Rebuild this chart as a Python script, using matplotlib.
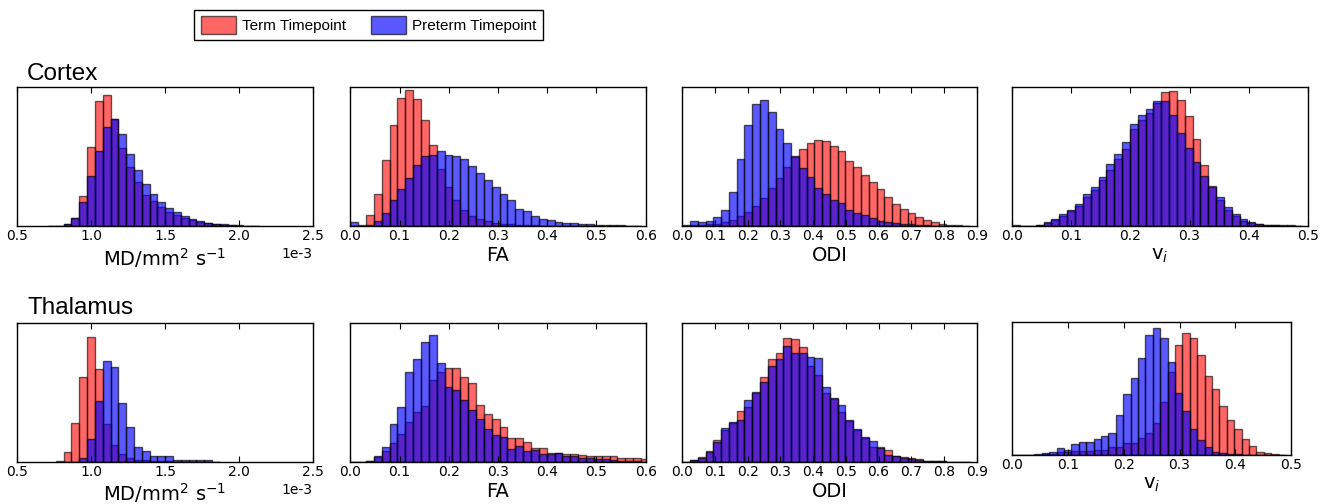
import numpy as np
import matplotlib
matplotlib.use("Agg")
import matplotlib.pyplot as plt
from matplotlib.patches import Patch
from matplotlib.ticker import MultipleLocator

plt.rcParams['axes.unicode_minus'] = False
plt.rcParams['font.family'] = ['DejaVu Sans']

# ---------------- data (relative bar heights, % of panel height) ----------------
series_labels = ["Term Timepoint", "Preterm Timepoint"]
row_titles = ["Cortex", "Thalamus"]
x_labels = [r"MD/mm$^2$ s$^{-1}$", "FA", "ODI", r"v$_i$"]

# bin grids (start, width) per metric
md_bins_cortex = (0.708e-3, 0.0529e-3)
md_bins_thal = (0.761e-3, 0.0529e-3)
fa_bins = (0.0, 0.01596)
odi_bins = (0.0, 0.02375)
vi_bins = (0.0, 0.01327)

# Cortex
md_cortex_term = [0.2, 0.5, 1.7, 6, 21.6, 57, 90, 94.7, 77, 56.3, 42.5, 32, 22.3, 18.2,
                  13.8, 10.4, 8, 5.8, 4.4, 3.4, 2.2, 1.7, 1.2, 0.7, 0.5, 0.3, 0.2]
md_cortex_pre = [0.2, 0.5, 1.7, 6, 17.5, 36, 54.6, 71.6, 77, 66.5, 52, 40.5, 30.8, 23,
                 17.5, 13.1, 10.2, 7.3, 5.3, 4.1, 2.7, 1.9, 1.5, 1.0, 0.7, 0.5, 0.2]

fa_cortex_term = [0.5, 0.7, 8, 23.6, 47.5, 73, 92.3, 98.3, 92, 76.4, 58.8, 41.4, 28, 18.8,
                  12, 7.7, 5.3, 3.6, 2.4, 1.9, 1.4, 1.2, 0.9, 0.7, 0.5, 0.4, 0.3, 0.3,
                  0.2, 0.2, 0.2, 0.1, 0.1, 0.1, 0, 0, 0]
fa_cortex_pre = [2.9, 0.5, 1.2, 3.6, 9.6, 19.3, 27, 35, 43.9, 51, 51.6, 54, 51.6, 50.6,
                 48.2, 43.4, 38.6, 33.7, 28.4, 23.6, 18.8, 12.5, 10.8, 7.7, 5.3, 4.3, 2.9,
                 2.4, 2.2, 1.9, 1.4, 1.2, 0.9, 0.7, 0.7, 0.5, 0.3]

odi_cortex_term = [0.3, 0.7, 1, 1.4, 1.9, 2.9, 4.8, 7.1, 10.5, 14.8, 20.7, 27.9, 34.5, 42.9,
                   50, 56, 60.2, 62.4, 61.2, 57.6, 54.3, 47.4, 42.9, 36.9, 32, 26.7, 21,
                   16.2, 12.4, 9.5, 6.7, 4.8, 2.9, 1.9, 1.2, 0.7, 0.3]
odi_cortex_pre = [1, 3.8, 2.9, 3.8, 6.7, 11.9, 25, 48.3, 73, 88, 91, 82, 70, 60, 50.5, 41.7,
                  35.2, 27.9, 23.3, 19, 17.1, 11.9, 9.5, 8.1, 6, 3.8, 3.1, 2.4, 1.7, 1.4,
                  1, 0.7, 0.5, 0.3, 0.2, 0.1, 0]

vi_cortex_term = [0.5, 0.2, 0.5, 1, 2.6, 4.8, 7.6, 11, 14.8, 21.4, 26.2, 33.3, 40.5, 48.8,
                  56, 69.8, 76.7, 81.7, 89, 96.4, 97.6, 91, 79.8, 63, 44, 29, 18.8, 12,
                  7.1, 4, 2.4, 1.4, 1, 0.7, 0.5, 0.3, 0.2]
vi_cortex_pre = [0.7, 0.2, 0.5, 1.2, 3.1, 5.2, 8.6, 11.4, 16.4, 23.3, 28.6, 35.7, 45.2, 52.4,
                 61, 73.8, 80, 84.5, 90.5, 90, 80.5, 67, 56.4, 46.4, 36.4, 28.6, 21, 13.6,
                 8.8, 5.2, 2.9, 1.9, 1.2, 1, 0.7, 0.7, 0.3]

# Thalamus
md_thal_term = [0.5, 7, 28.2, 61, 90, 66.7, 27.7, 12, 6, 3.1, 1.7, 1.2, 0.7, 0.5, 0.5,
                0.3, 0.3, 0.2, 0.2, 0.1, 0]
md_thal_pre = [0, 0, 0.2, 2.9, 16.9, 43.9, 73, 68.7, 42.7, 25.3, 10.8, 7.7, 4.1, 4.6, 4.6,
               1.7, 1.7, 1.7, 1.7, 1.4, 0.2]

fa_thal_term = [0, 0.2, 0.7, 3.6, 7.7, 13.7, 20.4, 29, 35.7, 40.5, 58.8, 65.2, 67.6, 67.6,
                61.2, 57.3, 41.2, 34.8, 30.9, 25.2, 17.3, 17.3, 14.1, 10.1, 10.1, 6.5, 6.5,
                6, 6, 5, 4, 4, 4.6, 4, 2.6, 3.1, 2.6, 2.2]
fa_thal_pre = [0, 0, 0.5, 4, 10.8, 27.6, 39.6, 64.7, 74, 86.8, 91.6, 71.2, 54, 51.6, 44.4,
               37.6, 30.9, 23.7, 19.4, 17.7, 9.4, 11.3, 7.7, 8.9, 6, 5.5, 6.5, 4.6, 4, 3.1,
               2.6, 2.2, 1.9, 1.2, 1, 0.7, 0.5, 0.3]

odi_thal_term = [0.2, 1.2, 3.6, 8.2, 16, 23.3, 28, 36.5, 39.6, 49.6, 61.2, 74, 78.4, 89.2,
                 88.7, 83.2, 69.3, 62.8, 50, 45.6, 35.7, 29.3, 23.3, 17.3, 10.8, 10.8, 8.4,
                 4.1, 3.6, 3.1, 2.2, 1, 0.5, 0.5, 0.2, 0.2, 0.2]
odi_thal_pre = [0.2, 1.7, 2.9, 7, 14.1, 24.5, 28.5, 30.5, 44.8, 50.8, 58, 69.3, 74, 83.7,
                78.4, 78.4, 75.5, 74.8, 54, 45.8, 41, 30.5, 23.7, 18, 14.9, 10.1, 5.3, 4.1,
                3.1, 2.2, 1.2, 0.7, 0.5, 0.5, 0.2, 0.2, 0.2]

vi_thal_term = [0, 0, 0, 0.2, 0.5, 1, 2, 2.5, 3, 3, 3, 3.5, 4, 6, 6.25, 9.25, 8.75, 12.5,
                16.25, 23.75, 39.5, 62.5, 83, 92, 88, 75.5, 59.5, 49.5, 36.75, 26.25, 19.5,
                11.75, 6.75, 2, 1.25, 1, 0.3]
vi_thal_pre = [0, 0.1, 0.3, 0.75, 1.75, 2, 5, 4, 8, 10, 10, 12, 14.5, 16.75, 30, 45.5, 58,
               73, 90, 95.75, 88, 70, 46.25, 33, 19.5, 11.25, 6, 2.5, 1.5, 1, 0.5, 0.3, 0.2,
               0.1, 0, 0, 0]

panels = [
    # row, col, bins, term, preterm, xlim, tick step
    (0, 0, md_bins_cortex, md_cortex_term, md_cortex_pre, (0.5e-3, 2.5e-3), 0.5e-3),
    (0, 1, fa_bins, fa_cortex_term, fa_cortex_pre, (0.0, 0.6), 0.1),
    (0, 2, odi_bins, odi_cortex_term, odi_cortex_pre, (0.0, 0.9), 0.1),
    (0, 3, vi_bins, vi_cortex_term, vi_cortex_pre, (0.0, 0.5), 0.1),
    (1, 0, md_bins_thal, md_thal_term, md_thal_pre, (0.5e-3, 2.5e-3), 0.5e-3),
    (1, 1, fa_bins, fa_thal_term, fa_thal_pre, (0.0, 0.6), 0.1),
    (1, 2, odi_bins, odi_thal_term, odi_thal_pre, (0.0, 0.9), 0.1),
    (1, 3, vi_bins, vi_thal_term, vi_thal_pre, (0.0, 0.5), 0.1),
]

# ---------------- layout ----------------
W, H = 1333, 504
fig = plt.figure(figsize=(W / 100, H / 100), dpi=100)

col_x = [(17.3, 312.7), (350.3, 645.7), (682.3, 976.7), (1012.3, 1307.7)]
row_y = [(87.5, 226.3), (323.3, 462.0)]
special_last = (1012.3, 1291.0, 322.0, 455.0)

TERM_C = (1.0, 0.0, 0.0)
PRE_C = (0.0, 0.0, 1.0)
TERM_A = 0.6
PRE_A = 0.65

for (r, c, (b0, bw), term, pre, xlim, step) in panels:
    if r == 1 and c == 3:
        x0, x1, y0, y1 = special_last
    else:
        x0, x1 = col_x[c]
        y0, y1 = row_y[r]
    ax = fig.add_axes([x0 / W, 1 - y1 / H, (x1 - x0) / W, (y1 - y0) / H])
    n = len(term)
    edges = b0 + bw * np.arange(n + 1)
    centers = 0.5 * (edges[:-1] + edges[1:])
    ax.hist(centers, bins=edges, weights=term, color=TERM_C, alpha=TERM_A,
            edgecolor='black', linewidth=1.0)
    ax.hist(centers, bins=edges, weights=pre, color=PRE_C, alpha=PRE_A,
            edgecolor='black', linewidth=1.0)
    ax.set_xlim(*xlim)
    ax.set_ylim(0, 100)
    ax.xaxis.set_major_locator(MultipleLocator(step))
    ax.tick_params(axis='x', direction='in', top=True, bottom=True, length=4,
                   width=0.8, labelsize=10, pad=2)
    ax.tick_params(axis='y', left=False, right=False, labelleft=False)
    if c == 0:
        ax.ticklabel_format(style='sci', axis='x', scilimits=(0, 0))
        ax.xaxis.get_offset_text().set_fontsize(10)
    for s in ax.spines.values():
        s.set_linewidth(1.0)
    ax.set_xlabel(x_labels[c], fontsize=14, labelpad=2)

# row titles
fig.text(27 / W, 1 - 73.5 / H, row_titles[0], fontsize=17.5, family='Liberation Sans',
         ha='left', va='center')
fig.text(27 / W, 1 - 308 / H, row_titles[1], fontsize=17.5, family='Liberation Sans',
         ha='left', va='center')

# legend
handles = [Patch(facecolor=TERM_C, alpha=TERM_A, edgecolor='black', linewidth=1.0),
           Patch(facecolor=PRE_C, alpha=PRE_A, edgecolor='black', linewidth=1.0)]
leg = fig.legend(handles, series_labels, loc='center', bbox_to_anchor=(368.5 / W, 1 - 25 / H),
                 ncol=2, fancybox=False, framealpha=1, edgecolor='black',
                 prop={'family': 'Liberation Sans', 'size': 11},
                 handlelength=2.3, handleheight=1.35, borderpad=0.42, columnspacing=1.6,
                 handletextpad=0.4, borderaxespad=0)
leg.get_frame().set_linewidth(1.0)

fig.savefig("out.png", dpi=100)
